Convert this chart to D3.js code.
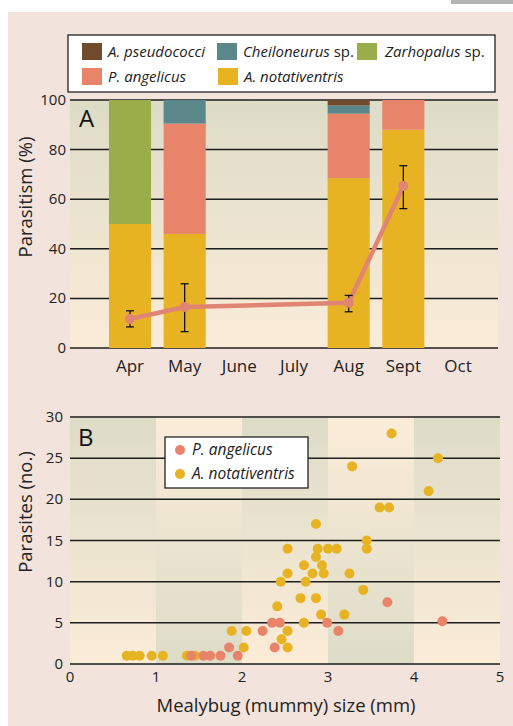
<!DOCTYPE html>
<html>
<head>
<meta charset="utf-8">
<script src="https://cdn.jsdelivr.net/npm/d3@7"></script>
<style>
  body { margin: 0; background: #fff; }
  svg { display: block; font-family: "Open Sans", sans-serif; }
</style>
</head>
<body>
<div class="graph"></div>
<script>
const w = 513;
const h = 726;

// panel A data (percent parasitism by month)
const months = ["Apr", "May", "June", "July", "Aug", "Sept", "Oct"];
const notativentris = [50, 46, 0, 0, 68.5, 88, 0];
const angelicus = [0, 44.5, 0, 0, 26, 12, 0];
const zarhopalus = [50, 0, 0, 0, 0, 0, 0];
const cheiloneurus = [0, 9.5, 0, 0, 3.3, 0, 0];
const pseudococci = [0, 0, 0, 0, 2.2, 0, 0];
const yTicksA = [0, 20, 40, 60, 80, 100];

// total parasitism line with error bars
const lineMonths = ["Apr", "May", "Aug", "Sept"];
const lineMean = [11.7, 16.5, 18.2, 65.3];
const lineLo = [8.5, 6.6, 14.6, 56.2];
const lineHi = [15, 25.9, 21.2, 73.5];

// panel B data: mummy size (mm) vs parasites (no.)
const angSize = [1.41, 1.55, 1.63, 1.75, 1.85, 1.95, 2.24, 2.35, 2.38, 2.44, 2.99, 3.12, 3.69, 4.33];
const angCount = [1, 1, 1, 1, 2, 1, 4, 5, 2, 5, 5, 4, 7.5, 5.2];
const notSize = [0.66, 0.73, 0.81, 0.95, 1.08, 1.36, 1.45, 1.88, 2.02, 2.05, 2.41, 2.45, 2.46, 2.53, 2.53, 2.53, 2.53,
  2.68, 2.72, 2.72, 2.74, 2.82, 2.86, 2.86, 2.86, 2.88, 2.92, 2.93, 2.95, 3.00, 3.10, 3.19, 3.25, 3.28, 3.41,
  3.45, 3.45, 3.60, 3.71, 3.74, 4.17, 4.28];
const notCount = [1, 1, 1, 1, 1, 1, 1, 4, 2, 4, 7, 10, 3, 14, 11, 4, 2,
  8, 12, 5, 10, 11, 17, 13, 8, 14, 6, 12, 11, 14, 14, 6, 11, 24, 9,
  15, 14, 19, 19, 28, 21, 25];
const xTicksB = [0, 1, 2, 3, 4, 5];
const yTicksB = [0, 5, 10, 15, 20, 25, 30];

const colors = {
  pseudococci: "#714a2c",
  cheiloneurus: "#5a878a",
  zarhopalus: "#9aad4b",
  angelicus: "#e8846a",
  notativentris: "#e7b323"
};

const svg = d3.select(".graph").append("svg")
  .attr("width", w).attr("height", h);

svg.append("rect").attr("x", 8).attr("y", 12).attr("width", w - 8).attr("height", h - 12)
  .attr("fill", "#f2e4dc");
svg.append("rect").attr("x", 451).attr("y", 0).attr("width", 62).attr("height", 4)
  .attr("fill", "#b3b3b3");

const defs = svg.append("defs");
function grad(id, top, bottom) {
  const g = defs.append("linearGradient").attr("id", id)
    .attr("x1", 0).attr("y1", 0).attr("x2", 0).attr("y2", 1);
  g.append("stop").attr("offset", "0%").attr("stop-color", top);
  g.append("stop").attr("offset", "100%").attr("stop-color", bottom);
}
grad("gDown", "#dddcc7", "#fbecd8");
grad("gUp", "#fbecd8", "#dddcc7");

// ---------- Panel A ----------
const A = {left: 70, right: 498, top: 100, bottom: 348};
const xA = d3.scalePoint().domain(months).range([130, 458]);
const yA = d3.scaleLinear().domain([0, 100]).range([A.bottom, A.top]);
const barW = xA.step() * 0.77;

svg.append("rect").attr("x", A.left).attr("y", A.top)
  .attr("width", A.right - A.left).attr("height", A.bottom - A.top)
  .attr("fill", "url(#gDown)");

svg.append("g").selectAll("line").data(yTicksA).enter().append("line")
  .attr("x1", A.left).attr("x2", A.right)
  .attr("y1", d => yA(d)).attr("y2", d => yA(d))
  .attr("stroke", "#1e1e1e").attr("stroke-width", 1.5);

svg.append("g").selectAll("text").data(yTicksA).enter().append("text")
  .attr("x", 66).attr("y", d => yA(d) + 5)
  .attr("text-anchor", "end").attr("font-size", 15).attr("fill", "#222")
  .text(d => d);

const keys = ["notativentris", "angelicus", "zarhopalus", "cheiloneurus", "pseudococci"];
const series = {notativentris, angelicus, zarhopalus, cheiloneurus, pseudococci};
const table = months.map((m, i) => {
  const row = {month: m};
  keys.forEach(k => row[k] = series[k][i]);
  return row;
});
const stacked = d3.stack().keys(keys)(table);

svg.append("g").selectAll("g").data(stacked).enter().append("g")
  .attr("fill", d => colors[d.key])
  .selectAll("rect").data(d => d.filter(p => p[1] - p[0] > 0)).enter().append("rect")
  .attr("x", d => xA(d.data.month) - barW / 2)
  .attr("width", barW)
  .attr("y", d => yA(d[1]))
  .attr("height", d => yA(d[0]) - yA(d[1]));

svg.append("g").selectAll("text").data(months).enter().append("text")
  .attr("x", d => xA(d)).attr("y", 372)
  .attr("text-anchor", "middle").attr("font-size", 17).attr("fill", "#222")
  .text(d => d);

// line
const lineData = lineMonths.map((m, i) => ({m, v: lineMean[i], lo: lineLo[i], hi: lineHi[i]}));
svg.append("path").datum(lineData)
  .attr("fill", "none").attr("stroke", "#e08474").attr("stroke-width", 4.5)
  .attr("d", d3.line().x(d => xA(d.m)).y(d => yA(d.v)));

const eb = svg.append("g").attr("stroke", "#111").attr("stroke-width", 1.3);
eb.selectAll(".v").data(lineData).enter().append("line")
  .attr("x1", d => xA(d.m)).attr("x2", d => xA(d.m))
  .attr("y1", d => yA(d.lo)).attr("y2", d => yA(d.hi));
eb.selectAll(".t").data(lineData).enter().append("line")
  .attr("x1", d => xA(d.m) - 4).attr("x2", d => xA(d.m) + 4)
  .attr("y1", d => yA(d.hi)).attr("y2", d => yA(d.hi));
eb.selectAll(".b").data(lineData).enter().append("line")
  .attr("x1", d => xA(d.m) - 4).attr("x2", d => xA(d.m) + 4)
  .attr("y1", d => yA(d.lo)).attr("y2", d => yA(d.lo));

svg.append("g").selectAll("circle").data(lineData).enter().append("circle")
  .attr("cx", d => xA(d.m)).attr("cy", d => yA(d.v)).attr("r", 5)
  .attr("fill", "#e08474");

svg.append("text").attr("x", 79).attr("y", 127)
  .attr("font-size", 24).attr("fill", "#111").text("A");

svg.append("text")
  .attr("transform", "translate(32,197) rotate(-90)")
  .attr("text-anchor", "middle").attr("font-size", 18.5).attr("fill", "#222")
  .text("Parasitism (%)");

// legend A
svg.append("rect").attr("x", 68).attr("y", 35).attr("width", 427).attr("height", 57)
  .attr("fill", "#fff").attr("stroke", "#222").attr("stroke-width", 1.3);

const legA = [
  {k: "pseudococci", x: 82, y: 43, it: "A. pseudococci", rest: ""},
  {k: "cheiloneurus", x: 217, y: 43, it: "Cheiloneurus", rest: " sp."},
  {k: "zarhopalus", x: 357, y: 43, it: "Zarhopalus", rest: " sp."},
  {k: "angelicus", x: 82, y: 68, it: "P. angelicus", rest: ""},
  {k: "notativentris", x: 218, y: 68, it: "A. notativentris", rest: ""}
];
const la = svg.append("g").selectAll("g").data(legA).enter().append("g")
  .attr("transform", d => `translate(${d.x},${d.y})`);
la.append("rect").attr("width", 20).attr("height", 17).attr("fill", d => colors[d.k]);
const lt = la.append("text").attr("x", d => d.k === "zarhopalus" ? 28 : 26).attr("y", 14)
  .attr("font-size", 15).attr("fill", "#222");
lt.append("tspan").attr("font-style", "italic").text(d => d.it);
lt.append("tspan").text(d => d.rest);

// ---------- Panel B ----------
const B = {left: 70, right: 500, top: 417, bottom: 664};
const xB = d3.scaleLinear().domain([0, 5]).range([B.left, B.right]);
const yB = d3.scaleLinear().domain([0, 30]).range([B.bottom, B.top]);

svg.append("g").selectAll("rect").data(d3.range(5)).enter().append("rect")
  .attr("x", d => xB(d)).attr("width", d => xB(d + 1) - xB(d))
  .attr("y", B.top).attr("height", B.bottom - B.top)
  .attr("fill", d => d % 2 === 0 ? "url(#gDown)" : "url(#gUp)");

svg.append("g").selectAll("line").data(yTicksB).enter().append("line")
  .attr("x1", B.left).attr("x2", B.right)
  .attr("y1", d => yB(d)).attr("y2", d => yB(d))
  .attr("stroke", "#1e1e1e").attr("stroke-width", 1.5);

svg.append("g").selectAll("text").data(yTicksB).enter().append("text")
  .attr("x", 63).attr("y", d => yB(d) + 5)
  .attr("text-anchor", "end").attr("font-size", 15).attr("fill", "#222")
  .text(d => d);

svg.append("g").selectAll("text").data(xTicksB).enter().append("text")
  .attr("x", d => xB(d)).attr("y", 682)
  .attr("text-anchor", "middle").attr("font-size", 15).attr("fill", "#222")
  .text(d => d);

svg.append("g").selectAll("circle").data(notSize).enter().append("circle")
  .attr("cx", d => xB(d)).attr("cy", (d, i) => yB(notCount[i])).attr("r", 5)
  .attr("fill", colors.notativentris);
svg.append("g").selectAll("circle").data(angSize).enter().append("circle")
  .attr("cx", d => xB(d)).attr("cy", (d, i) => yB(angCount[i])).attr("r", 5)
  .attr("fill", colors.angelicus);

svg.append("text").attr("x", 78).attr("y", 446)
  .attr("font-size", 24).attr("fill", "#111").text("B");

svg.append("text")
  .attr("transform", "translate(32,512) rotate(-90)")
  .attr("text-anchor", "middle").attr("font-size", 18.5).attr("fill", "#222")
  .text("Parasites (no.)");

svg.append("text").attr("x", 286).attr("y", 712)
  .attr("text-anchor", "middle").attr("font-size", 18.5).attr("fill", "#222")
  .text("Mealybug (mummy) size (mm)");

// legend B
svg.append("rect").attr("x", 165).attr("y", 437).attr("width", 143).attr("height", 51)
  .attr("fill", "#fff").attr("stroke", "#222").attr("stroke-width", 1.3);
const legB = [
  {k: "angelicus", y: 450, t: "P. angelicus"},
  {k: "notativentris", y: 474, t: "A. notativentris"}
];
const lb = svg.append("g").selectAll("g").data(legB).enter().append("g");
lb.append("circle").attr("cx", 180).attr("cy", d => d.y).attr("r", 5).attr("fill", d => colors[d.k]);
lb.append("text").attr("x", 192).attr("y", d => d.y + 5)
  .attr("font-size", 15.5).attr("font-style", "italic").attr("fill", "#222")
  .text(d => d.t);
</script>
</body>
</html>
